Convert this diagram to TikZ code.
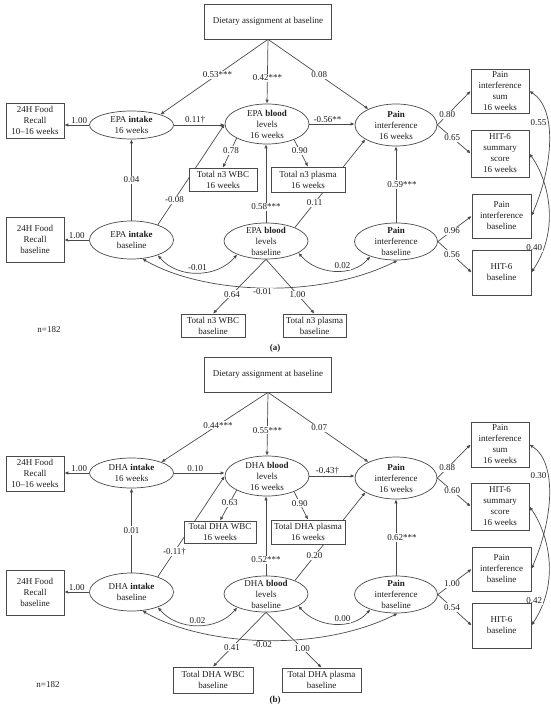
\documentclass[tikz,border=0pt]{standalone}
\usepackage{fontspec}
\setmainfont{Liberation Serif}
\usepackage{tikz}
\usetikzlibrary{arrows.meta,shapes.geometric,backgrounds}
\definecolor{linegray}{HTML}{4A4A4A}
\definecolor{textgray}{HTML}{1E1E1E}

\tikzset{
  obs/.style={draw=linegray, fill=white, rectangle, align=center, inner sep=1pt, line width=0.7pt},
  lat/.style={draw=linegray, fill=white, ellipse, align=center, inner xsep=0pt, inner ysep=-6pt,
    minimum width=84, line width=0.7pt},
  arr/.style={draw=linegray, line width=0.7pt, -{Latex[length=4pt,width=3.4pt]}},
  dbl/.style={draw=linegray, line width=0.7pt, {Latex[length=4pt,width=3.4pt]}-{Latex[length=4pt,width=3.4pt]}},
  coef/.style={fill=white, inner sep=1pt}
}

\begin{document}
\begin{tikzpicture}[x=1pt,y=-1pt, font=\fontsize{9}{11}\selectfont, text=textgray]
\useasboundingbox (0,0) rectangle (550,708);

% (a) EPA model
\begin{scope}[name prefix=a-]
\node[obs, minimum width=127, minimum height=35] (diet) at (268,21.5) {Dietary assignment at baseline};
\node[obs, minimum width=58, minimum height=35] (rec16) at (35,120.5) {24H Food\\Recall\\10--16 weeks};
\node[lat, minimum height=28] (int16) at (131.5,125) {EPA \textbf{intake}\\16 weeks};
\node[lat, minimum height=40] (blood16) at (267,124) {EPA \textbf{blood}\\levels\\16 weeks};
\node[lat, minimum width=82, minimum height=42] (pain16) at (396,125) {\textbf{Pain}\\interference\\16 weeks};
\node[obs, minimum width=58, minimum height=44] (pisum) at (500,91) {Pain\\interference\\sum\\16 weeks};
\node[obs, minimum width=58, minimum height=47] (hitsum) at (500,153.5) {HIT-6\\summary\\score\\16 weeks};
\node[obs, minimum width=68, minimum height=23] (wbc16) at (223,179.5) {Total n3 WBC\\16 weeks};
\node[obs, minimum width=74, minimum height=25] (pla16) at (308,179.5) {Total n3 plasma\\16 weeks};
\node[lat, minimum height=38] (intb) at (131.5,240) {EPA \textbf{intake}\\baseline};
\node[obs, minimum width=58, minimum height=45] (recb) at (35,239.5) {24H Food\\Recall\\baseline};
\node[lat, minimum height=36] (bloodb) at (266,241) {EPA \textbf{blood}\\levels\\baseline};
\node[lat, minimum width=83, minimum height=37] (painb) at (396,241.5) {\textbf{Pain}\\interference\\baseline};
\node[obs, minimum width=59, minimum height=44] (pib) at (501.5,216) {Pain\\interference\\baseline};
\node[obs, minimum width=59, minimum height=45] (hitb) at (501.5,272.5) {HIT-6\\baseline};
\node[obs, minimum width=64, minimum height=23] (wbcb) at (213,325.5) {Total n3 WBC\\baseline};
\node[obs, minimum width=63, minimum height=23] (plab) at (314.5,325.5) {Total n3 plasma\\baseline};
\node (n) at (49,330) {n=182};
\node (tag) at (275,348) {\textbf{(a)}};

\begin{scope}[on background layer]
\draw[arr] (diet.south) -- node[coef, pos=0.47] {0.53***} (int16.20);
\draw[arr] (diet.south) -- node[coef, pos=0.6] {0.42***} (blood16.north);
\draw[arr] (diet.south) -- node[coef, pos=0.51] {0.08} (pain16.150);
\draw[arr] (int16.west) -- node[coef, above, pos=0.4] {1.00} (int16.west -| rec16.east);
\draw[arr] (int16.east) -- node[coef, above, pos=0.42] {0.11\textdagger} (int16.east -| blood16.west);
\draw[arr] (blood16.east) -- node[coef, above, pos=0.4] {-0.56**} (blood16.east -| pain16.west);
\draw[arr] (pain16.east) -- node[coef, pos=0.3] {0.80} (pisum.west);
\draw[arr] (pain16.east) -- node[coef, pos=0.45] {0.65} (hitsum.west);
\draw[dbl] (pisum.east) .. controls +(28,18) and +(22,-50) .. node[coef, left, pos=0.35] {0.55} (pib.east);
\draw[dbl] (hitsum.east) .. controls +(18,25) and +(30,-45) .. node[coef, left, pos=0.82] {0.40} (hitb.east);
\draw[arr] (intb.north) -- node[coef, pos=0.5] {0.04} (int16.south);
\draw[arr] (intb.west) -- node[coef, above, pos=0.5] {1.00} (intb.west -| recb.east);
\draw[arr] (intb.30) -- node[coef, pos=0.25] {-0.08} (blood16.west);
\draw[arr] (blood16.205) -- node[coef, pos=0.42] {0.78} (wbc16.north);
\draw[arr] (blood16.330) -- node[coef, pos=0.41] {0.90} (pla16.north);
\draw[arr] (bloodb.25) -- node[coef, pos=0.28] {0.11} (pain16.205);
\draw[arr] (bloodb.north) -- node[coef, pos=0.2] {0.58***} (bloodb.north |- blood16.south);
\draw[arr] (painb.north) -- node[coef, pos=0.5, xshift=6pt] {0.59***} (pain16.south);
\draw[arr] (painb.east) -- node[coef, pos=0.42] {0.96} (pib.west);
\draw[arr] (painb.east) -- node[coef, pos=0.42] {0.56} (hitb.west);
\draw[dbl] (intb.330) to[out=-50, in=-130] node[coef, pos=0.5, yshift=5pt] {-0.01} (bloodb.205);
\draw[dbl] (bloodb.340) to[out=-50, in=-130] node[coef, pos=0.6, yshift=5pt] {0.02} (painb.210);
\draw[dbl] (intb.300) .. controls +(60,35) and +(-80,40) .. node[coef, below, pos=0.5] {-0.01} (painb.275);
\draw[arr] (bloodb.south) -- node[coef, pos=0.64] {0.64} (wbcb.north);
\draw[arr] (bloodb.south) -- node[coef, pos=0.65] {1.00} (plab.north);
\end{scope}
\end{scope}

% (b) DHA model
\begin{scope}[yshift=-353pt, name prefix=b-]
\node[obs, minimum width=127, minimum height=35] (diet) at (268,21.5) {Dietary assignment at baseline};
\node[obs, minimum width=58, minimum height=35] (rec16) at (35,120.5) {24H Food\\Recall\\10--16 weeks};
\node[lat, minimum height=30] (int16) at (131.5,120) {DHA \textbf{intake}\\16 weeks};
\node[lat, minimum height=40] (blood16) at (267,123) {DHA \textbf{blood}\\levels\\16 weeks};
\node[lat, minimum width=82, minimum height=42] (pain16) at (396,125) {\textbf{Pain}\\interference\\16 weeks};
\node[obs, minimum width=58, minimum height=45] (pisum) at (500,91.5) {Pain\\interference\\sum\\16 weeks};
\node[obs, minimum width=58, minimum height=47] (hitsum) at (500,153.5) {HIT-6\\summary\\score\\16 weeks};
\node[obs, minimum width=72, minimum height=22] (wbc16) at (220,179) {Total DHA WBC\\16 weeks};
\node[obs, minimum width=74, minimum height=24] (pla16) at (308,179) {Total DHA plasma\\16 weeks};
\node[lat, minimum height=38] (intb) at (131.5,239) {DHA \textbf{intake}\\baseline};
\node[obs, minimum width=58, minimum height=45] (recb) at (35,239.5) {24H Food\\Recall\\baseline};
\node[lat, minimum height=36] (bloodb) at (266,241) {DHA \textbf{blood}\\levels\\baseline};
\node[lat, minimum width=83, minimum height=37] (painb) at (396,241.5) {\textbf{Pain}\\interference\\baseline};
\node[obs, minimum width=59, minimum height=44] (pib) at (501.5,216) {Pain\\interference\\baseline};
\node[obs, minimum width=59, minimum height=45] (hitb) at (501.5,272.5) {HIT-6\\baseline};
\node[obs, minimum width=80, minimum height=26] (wbcb) at (213,327) {Total DHA WBC\\baseline};
\node[obs, minimum width=79, minimum height=24] (plab) at (321.5,327) {Total DHA plasma\\baseline};
\node (n) at (48,332) {n=182};
\node (tag) at (275,347) {\textbf{(b)}};

\begin{scope}[on background layer]
\draw[arr] (diet.south) -- node[coef, pos=0.47] {0.44***} (int16.20);
\draw[arr] (diet.south) -- node[coef, pos=0.6] {0.55***} (blood16.north);
\draw[arr] (diet.south) -- node[coef, pos=0.51] {0.07} (pain16.150);
\draw[arr] (int16.west) -- node[coef, above, pos=0.4] {1.00} (int16.west -| rec16.east);
\draw[arr] (int16.east) -- node[coef, above, pos=0.42] {0.10} (int16.east -| blood16.west);
\draw[arr] (blood16.east) -- node[coef, above, pos=0.4] {-0.43\textdagger} (blood16.east -| pain16.west);
\draw[arr] (pain16.east) -- node[coef, pos=0.3] {0.88} (pisum.west);
\draw[arr] (pain16.east) -- node[coef, pos=0.45] {0.60} (hitsum.west);
\draw[dbl] (pisum.east) .. controls +(28,18) and +(22,-50) .. node[coef, left, pos=0.35] {0.30} (pib.east);
\draw[dbl] (hitsum.east) .. controls +(18,25) and +(30,-45) .. node[coef, left, pos=0.82] {0.42} (hitb.east);
\draw[arr] (intb.north) -- node[coef, pos=0.5] {0.01} (int16.south);
\draw[arr] (intb.west) -- node[coef, above, pos=0.5] {1.00} (intb.west -| recb.east);
\draw[arr] (intb.30) -- node[coef, pos=0.25] {-0.11\textdagger} (blood16.west);
\draw[arr] (blood16.205) -- node[coef, pos=0.42] {0.63} (wbc16.north);
\draw[arr] (blood16.330) -- node[coef, pos=0.41] {0.90} (pla16.north);
\draw[arr] (bloodb.25) -- node[coef, pos=0.28] {0.20} (pain16.205);
\draw[arr] (bloodb.north) -- node[coef, pos=0.2] {0.52***} (bloodb.north |- blood16.south);
\draw[arr] (painb.north) -- node[coef, pos=0.5, xshift=6pt] {0.62***} (pain16.south);
\draw[arr] (painb.east) -- node[coef, pos=0.42] {1.00} (pib.west);
\draw[arr] (painb.east) -- node[coef, pos=0.42] {0.54} (hitb.west);
\draw[dbl] (intb.330) to[out=-50, in=-130] node[coef, pos=0.5, yshift=5pt] {0.02} (bloodb.205);
\draw[dbl] (bloodb.340) to[out=-50, in=-130] node[coef, pos=0.6, yshift=5pt] {0.00} (painb.210);
\draw[dbl] (intb.300) .. controls +(60,35) and +(-80,40) .. node[coef, below, pos=0.5] {-0.02} (painb.275);
\draw[arr] (bloodb.south) -- node[coef, pos=0.64] {0.41} (wbcb.north);
\draw[arr] (bloodb.south) -- node[coef, pos=0.65] {1.00} (plab.north);
\end{scope}
\end{scope}
\end{tikzpicture}
\end{document}
